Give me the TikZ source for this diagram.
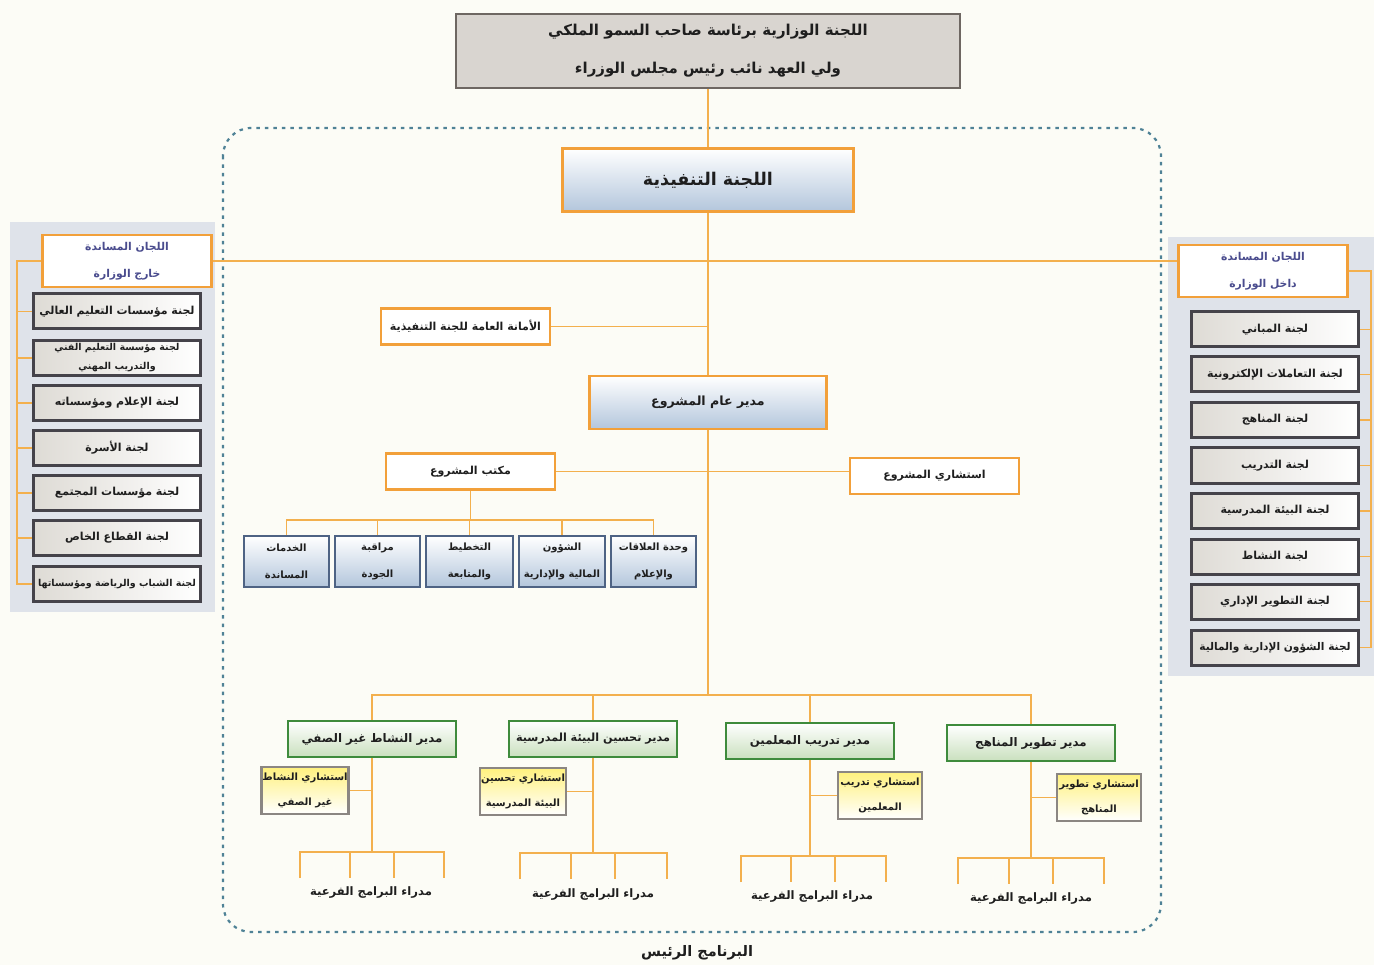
\documentclass[tikz,border=0pt]{standalone}
\usepackage{fontspec}
\TeXXeTstate=1
\newfontfamily\arabicfont[Script=Arabic]{DejaVu Sans}
\newcommand{\ar}[1]{\beginR #1\endR}
\definecolor{bgc}{HTML}{FCFCF6}
\definecolor{connc}{HTML}{F3B04E}
\definecolor{orangeb}{HTML}{F2A03A}
\definecolor{framec}{HTML}{4F8296}
\definecolor{panelc}{HTML}{DFE3EA}
\definecolor{grayb}{HTML}{45434A}
\definecolor{grayf}{HTML}{DEDBD5}
\definecolor{topb}{HTML}{6E6762}
\definecolor{topf}{HTML}{D9D5D0}
\definecolor{blueb}{HTML}{4E6384}
\definecolor{bluef}{HTML}{B3C6DC}
\definecolor{greenb}{HTML}{3E8B3C}
\definecolor{greenf}{HTML}{C9E0BE}
\definecolor{consb}{HTML}{8B8682}
\definecolor{consf}{HTML}{FFF17E}
\definecolor{headtxt}{HTML}{4A4C8E}
\definecolor{txt}{HTML}{1E1E1E}
\tikzset{
  base/.style={align=center, inner sep=1pt, text=txt, font=\arabicfont\bfseries\fontsize{11}{22}\selectfont},
  topbox/.style={base, draw=topb, line width=2.5pt, fill=topf, minimum width=504pt, minimum height=74pt, font=\arabicfont\bfseries\fontsize{15}{38}\selectfont},
  mainbox/.style={base, draw=orangeb, line width=2.5pt, top color=white, bottom color=bluef, font=\arabicfont\bfseries\fontsize{17.5}{22}\selectfont},
  orbox/.style={base, draw=orangeb, line width=2.2pt, fill=white, minimum width=169pt, minimum height=36pt},
  headbox/.style={orbox, text=headtxt, minimum height=52pt, font=\arabicfont\bfseries\fontsize{10.8}{27}\selectfont},
  graybox/.style={base, draw=grayb, line width=3pt, left color=grayf, right color=white, minimum width=167pt, minimum height=35pt},
  bluebox/.style={base, draw=blueb, line width=2.5pt, top color=white, bottom color=bluef, minimum width=85pt, minimum height=51pt, font=\arabicfont\bfseries\fontsize{10}{27}\selectfont},
  greenbox/.style={base, draw=greenb, line width=2.5pt, top color=white, bottom color=greenf, minimum width=168pt, minimum height=36pt, font=\arabicfont\bfseries\fontsize{11.8}{22}\selectfont},
  consbox/.style={base, draw=consb, line width=2.5pt, top color=consf, bottom color=white, minimum width=84pt, minimum height=47pt, font=\arabicfont\bfseries\fontsize{10}{25}\selectfont},
  lbl/.style={base, font=\arabicfont\bfseries\fontsize{11.6}{14}\selectfont},
  conn/.style={draw=connc, line width=1.5pt},
}
\begin{document}
\begin{tikzpicture}[x=1pt,y=-1pt]
\useasboundingbox (0,0) rectangle (1374,965);
\fill[bgc] (0,0) rectangle (1374,965);
% side panels
\fill[panelc] (10,222) rectangle (215,612);
\fill[panelc] (1168,237) rectangle (1374,676);
% dotted frame
\draw[framec, line width=2.2pt, dash pattern=on 3.5pt off 5pt, rounded corners=28pt] (223,128) rectangle (1161,932);

% top
\node[topbox] (top) at (708,51) {\ar{اللجنة الوزارية برئاسة صاحب السمو الملكي}\\\ar{ولي العهد نائب رئيس مجلس الوزراء}};
\node[mainbox, minimum width=291pt, minimum height=63pt] (exec) at (708,180) {\ar{اللجنة التنفيذية}};
\node[orbox] (amana) at (465.5,326.5) {\ar{الأمانة العامة للجنة التنفيذية}};
\node[mainbox, minimum width=237pt, minimum height=53pt, font=\arabicfont\bfseries\fontsize{12.6}{18}\selectfont] (mgr) at (708,402.5) {\ar{مدير عام المشروع}};
\node[orbox] (office) at (470.5,471.5) {\ar{مكتب المشروع}};
\node[orbox] (pcons) at (934.5,476) {\ar{استشاري المشروع}};

% five units
\node[bluebox] (u1) at (286.5,561.5) {\ar{الخدمات}\\\ar{المساندة}};
\node[bluebox] (u2) at (377.5,561.5) {\ar{مراقبة}\\\ar{الجودة}};
\node[bluebox, minimum width=87pt] (u3) at (469.5,561.5) {\ar{التخطيط}\\\ar{والمتابعة}};
\node[bluebox, minimum width=86pt] (u4) at (562,561.5) {\ar{الشؤون}\\\ar{المالية والإدارية}};
\node[bluebox] (u5) at (653.5,561.5) {\ar{وحدة العلاقات}\\\ar{والإعلام}};

% left panel
\node[headbox] (lh) at (127,261) {\ar{اللجان المساندة}\\\ar{خارج الوزارة}};
\node[graybox] (lb1) at (117,311.5) {\ar{لجنة مؤسسات التعليم العالي}};
\node[graybox, font=\arabicfont\bfseries\fontsize{9.5}{19}\selectfont] (lb2) at (117,358) {\ar{لجنة مؤسسة التعليم الفني}\\\ar{والتدريب المهني}};
\node[graybox] (lb3) at (117,403) {\ar{لجنة الإعلام ومؤسساته}};
\node[graybox] (lb4) at (117,448) {\ar{لجنة الأسرة}};
\node[graybox] (lb5) at (117,493) {\ar{لجنة مؤسسات المجتمع}};
\node[graybox] (lb6) at (117,538) {\ar{لجنة القطاع الخاص}};
\node[graybox, font=\arabicfont\bfseries\fontsize{9.5}{19}\selectfont] (lb7) at (117,584) {\ar{لجنة الشباب والرياضة ومؤسساتها}};

% right panel
\node[headbox] (rh) at (1263,271) {\ar{اللجان المساندة}\\\ar{داخل الوزارة}};
\node[graybox] (rb1) at (1275,329.5) {\ar{لجنة المباني}};
\node[graybox] (rb2) at (1275,374.5) {\ar{لجنة التعاملات الإلكترونية}};
\node[graybox] (rb3) at (1275,420) {\ar{لجنة المناهج}};
\node[graybox] (rb4) at (1275,465.5) {\ar{لجنة التدريب}};
\node[graybox] (rb5) at (1275,511) {\ar{لجنة البيئة المدرسية}};
\node[graybox] (rb6) at (1275,556.5) {\ar{لجنة النشاط}};
\node[graybox] (rb7) at (1275,601.5) {\ar{لجنة التطوير الإداري}};
\node[graybox, font=\arabicfont\bfseries\fontsize{10.6}{22}\selectfont] (rb8) at (1275,647.5) {\ar{لجنة الشؤون الإدارية والمالية}};

% directors
\node[greenbox] (g1) at (372,739) {\ar{مدير النشاط غير الصفي}};
\node[greenbox, font=\arabicfont\bfseries\fontsize{11.2}{22}\selectfont] (g2) at (593,739) {\ar{مدير تحسين البيئة المدرسية}};
\node[greenbox] (g3) at (810,741) {\ar{مدير تدريب المعلمين}};
\node[greenbox] (g4) at (1031,743) {\ar{مدير تطوير المناهج}};
\node[consbox] (c1) at (305,790.5) {\ar{استشاري النشاط}\\\ar{غير الصفي}};
\node[consbox] (c2) at (523,791.5) {\ar{استشاري تحسين}\\\ar{البيئة المدرسية}};
\node[consbox] (c3) at (880,795.5) {\ar{استشاري تدريب}\\\ar{المعلمين}};
\node[consbox] (c4) at (1099,797.5) {\ar{استشاري تطوير}\\\ar{المناهج}};

\node[lbl] (m1) at (371,893) {\ar{مدراء البرامج الفرعية}};
\node[lbl] (m2) at (593,895) {\ar{مدراء البرامج الفرعية}};
\node[lbl] (m3) at (812,897) {\ar{مدراء البرامج الفرعية}};
\node[lbl] (m4) at (1031,899) {\ar{مدراء البرامج الفرعية}};
\node[lbl, font=\arabicfont\bfseries\fontsize{14.5}{16}\selectfont] (prog) at (697,953) {\ar{البرنامج الرئيس}};

% coordinates
\coordinate (lv) at (17,0);
\coordinate (rv) at (1371,0);
\coordinate (jn) at (708,695);
\coordinate (oj) at (470.5,520);

% connectors
\draw[conn] (top.south) -- (exec.north);
\draw[conn] (exec.south) -- (mgr.north);
\draw[conn] (mgr.south) -- (jn);
\draw[conn] (amana.east) -- (amana.east -| jn);
\draw[conn] (office.east) -- (pcons.west |- office.east);
\draw[conn] (lh.east) -- (rh.west |- lh.east);
% left panel
\draw[conn] (lh.west) -- (lh.west -| lv) -- (lb7.west -| lv) -- (lb7.west);
\foreach \n in {lb1,lb2,lb3,lb4,lb5,lb6} \draw[conn] (\n.west) -- (\n.west -| lv);
% right panel
\draw[conn] (rh.east) -- (rh.east -| rv) -- (rb8.east -| rv) -- (rb8.east);
\foreach \n in {rb1,rb2,rb3,rb4,rb5,rb6,rb7} \draw[conn] (\n.east) -- (\n.east -| rv);
% office units
\draw[conn] (office.south) -- (oj);
\draw[conn] (u1.north) -- (u1.north |- oj) -- (u5.north |- oj) -- (u5.north);
\foreach \n in {u2,u3,u4} \draw[conn] (\n.north) -- (\n.north |- oj);
% directors
\draw[conn] (g1.north) -- (g1.north |- jn) -- (g4.north |- jn) -- (g4.north);
\foreach \n in {g2,g3} \draw[conn] (\n.north) -- (\n.north |- jn);
\draw[conn] (c1.east) -- (c1.east -| g1.south);
\draw[conn] (c2.east) -- (c2.east -| g2.south);
\draw[conn] (c3.west) -- (c3.west -| g3.south);
\draw[conn] (c4.west) -- (c4.west -| g4.south);
% combs
\foreach \g/\y/\a/\b/\c/\d in {g1/852/300/350/394/444, g2/853/520/571/615/667, g3/856/741/791/835/886, g4/858/958/1009/1053/1104}{
  \coordinate (k) at (\g.south |- 0,\y);
  \coordinate (ka) at (\a,\y);
  \coordinate (kd) at (\d,\y);
  \draw[conn] (\g.south) -- (k);
  \draw[conn] (ka) ++(0,26) -- (ka) -- (kd) -- ++(0,26);
  \draw[conn] (\b,\y) -- ++(0,26);
  \draw[conn] (\c,\y) -- ++(0,26);
}
\end{tikzpicture}
\end{document}
